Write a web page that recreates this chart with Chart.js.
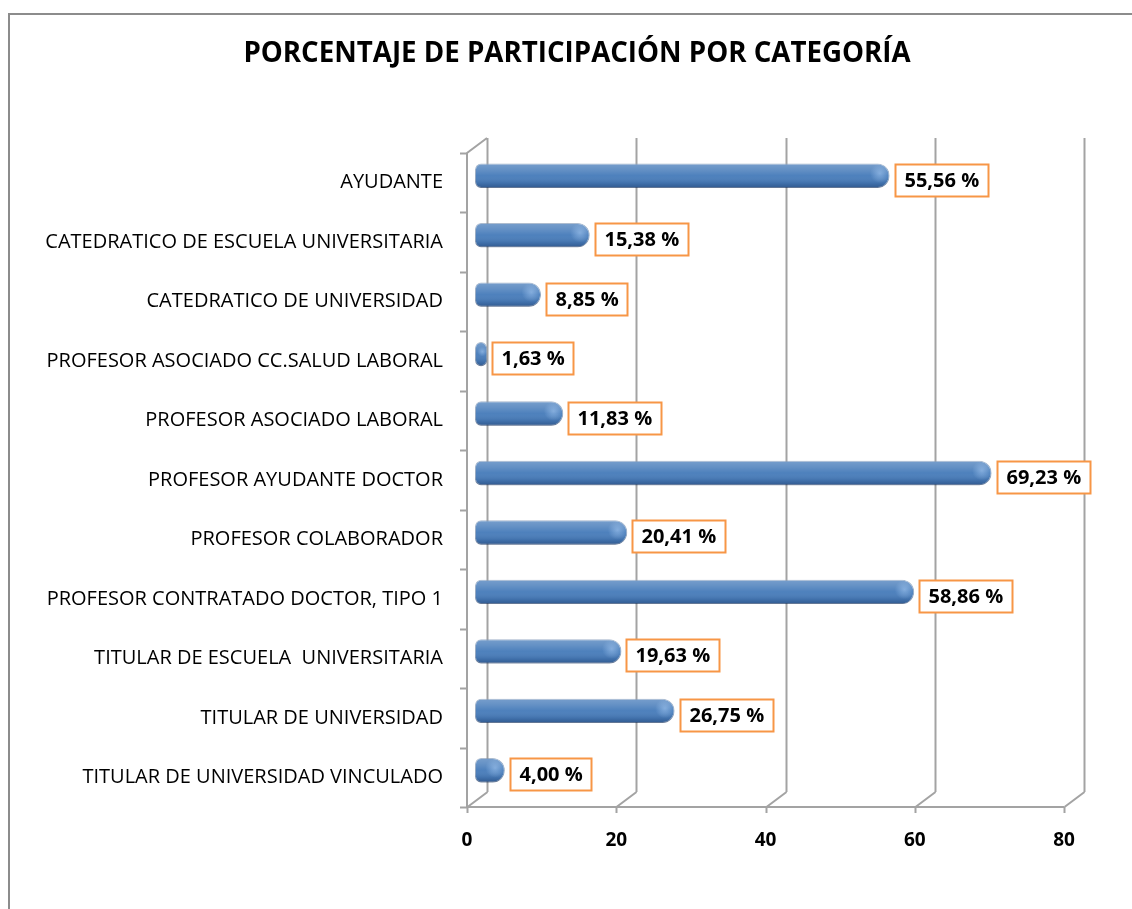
<!DOCTYPE html>
<html>
<head>
<meta charset="utf-8">
<script src="https://cdn.jsdelivr.net/npm/chart.js@4/dist/chart.umd.min.js"></script>
<style>
  html, body { margin: 0; padding: 0; background: #fff; }
  canvas { display: block; }
</style>
</head>
<body>
<canvas id="barChartExample" width="1132" height="909"></canvas>
<script>
'use strict';

var categories = [
    'AYUDANTE',
    'CATEDRATICO DE ESCUELA UNIVERSITARIA',
    'CATEDRATICO DE UNIVERSIDAD',
    'PROFESOR ASOCIADO CC.SALUD LABORAL',
    'PROFESOR ASOCIADO LABORAL',
    'PROFESOR AYUDANTE DOCTOR',
    'PROFESOR COLABORADOR',
    'PROFESOR CONTRATADO DOCTOR, TIPO 1',
    'TITULAR DE ESCUELA  UNIVERSITARIA',
    'TITULAR DE UNIVERSIDAD',
    'TITULAR DE UNIVERSIDAD VINCULADO'
];
var percentages = [55.56, 15.38, 8.85, 1.63, 11.83, 69.23, 20.41, 58.86, 19.63, 26.75, 4.00];
var xTicks = [0, 20, 40, 60, 80];

var chartTitle = 'PORCENTAJE DE PARTICIPACIÓN POR CATEGORÍA';

var brandBlue = '#4A7EBB',
    wallGray = '#A3A3A3',
    labelOrange = '#F79646',
    depthX = 20, depthY = -15;

Chart.defaults.font.family = "'Open Sans', sans-serif";
Chart.defaults.color = '#000';

function fmt(v) {
    return v.toFixed(2).replace('.', ',') + ' %';
}

// white background, outer frame and the title
var framePlugin = {
    id: 'frame',
    beforeDraw: function (chart) {
        var ctx = chart.ctx;
        ctx.save();
        ctx.fillStyle = '#fff';
        ctx.fillRect(0, 0, chart.width, chart.height);
        ctx.strokeStyle = '#8C8C8C';
        ctx.lineWidth = 2;
        ctx.strokeRect(9, 14, chart.width + 50, chart.height + 50);
        ctx.font = "bold 27.7px 'Open Sans', sans-serif";
        ctx.fillStyle = '#000';
        ctx.textAlign = 'center';
        ctx.textBaseline = 'middle';
        ctx.fillText(chartTitle, 577, 54);
        ctx.restore();
    }
};

// fake 3D walls, then shift the bars half way into the depth
var wallsPlugin = {
    id: 'walls',
    beforeDatasetsDraw: function (chart) {
        var ctx = chart.ctx, a = chart.chartArea,
            xs = chart.scales.x;
        ctx.save();
        ctx.strokeStyle = wallGray;
        ctx.lineWidth = 2;
        ctx.beginPath();
        xTicks.forEach(function (v) {
            var x = Math.round(xs.getPixelForValue(v)) + 0.5;
            // back wall gridline
            ctx.moveTo(x + depthX, a.top + depthY);
            ctx.lineTo(x + depthX, a.bottom + depthY);
            // floor diagonal
            ctx.moveTo(x + depthX, a.bottom + depthY);
            ctx.lineTo(x, a.bottom);
            // tick
            ctx.moveTo(x, a.bottom);
            ctx.lineTo(x, a.bottom + 6);
        });
        // front floor edge and left edge
        ctx.moveTo(a.left, a.bottom);
        ctx.lineTo(xs.getPixelForValue(80), a.bottom);
        ctx.moveTo(a.left, a.bottom);
        ctx.lineTo(a.left, a.top);
        ctx.lineTo(a.left + depthX, a.top + depthY);
        // category ticks on the left edge
        var step = (a.bottom - a.top) / categories.length;
        for (var i = 0; i <= categories.length; i++) {
            var y = Math.round(a.top + i * step) + 0.5;
            ctx.moveTo(a.left, y);
            ctx.lineTo(a.left - 7, y);
        }
        ctx.stroke();
        ctx.restore();

        ctx.save();
        ctx.translate(8, -7);
    },
    afterDatasetsDraw: function (chart) {
        var ctx = chart.ctx;
        var meta = chart.getDatasetMeta(0);
        // cylinder shading over each bar
        meta.data.forEach(function (bar) {
            var p = bar.getProps(['x', 'y', 'base', 'height']);
            var top = p.y - p.height / 2, h = p.height,
                left = p.base, w = p.x - p.base;
            var r = Math.min(h / 2, w / 2);
            var g = ctx.createLinearGradient(0, top, 0, top + h);
            g.addColorStop(0, 'rgba(255,255,255,0.25)');
            g.addColorStop(0.25, 'rgba(255,255,255,0.15)');
            g.addColorStop(0.5, 'rgba(255,255,255,0.02)');
            g.addColorStop(0.8, 'rgba(0,20,60,0.12)');
            g.addColorStop(1, 'rgba(0,20,60,0.35)');
            ctx.beginPath();
            ctx.roundRect(left, top, w, h, [Math.min(6, r), r, r, Math.min(6, r)]);
            ctx.fillStyle = g;
            ctx.fill();
            var cx = p.x - r * 0.8, cy = p.y - h * 0.1;
            var rg = ctx.createRadialGradient(cx, cy, 0, cx, cy, r * 0.8);
            rg.addColorStop(0, 'rgba(170,205,245,0.55)');
            rg.addColorStop(1, 'rgba(170,205,245,0)');
            ctx.fillStyle = rg;
            ctx.fill();
        });
        ctx.restore();

        // value boxes
        ctx.save();
        ctx.font = "bold 20px 'Open Sans', sans-serif";
        ctx.textBaseline = 'middle';
        meta.data.forEach(function (bar, i) {
            var txt = fmt(percentages[i]);
            var tw = ctx.measureText(txt).width;
            var bx = Math.round(bar.x + 9 + 4) + 0.5,
                by = Math.round(bar.y - 3 - 16) + 0.5,
                bw = Math.round(tw + 18), bh = 32;
            ctx.fillStyle = '#fff';
            ctx.fillRect(bx, by, bw, bh);
            ctx.strokeStyle = labelOrange;
            ctx.lineWidth = 2;
            ctx.strokeRect(bx, by, bw, bh);
            ctx.fillStyle = '#000';
            ctx.fillText(txt, bx + 9, by + bh / 2 + 1);
        });
        ctx.restore();
    }
};

var barChartExample = new Chart(document.getElementById('barChartExample'), {
    type: 'bar',
    data: {
        labels: categories,
        datasets: [{
            label: 'Porcentaje',
            data: percentages,
            backgroundColor: brandBlue,
            borderColor: 'rgba(40,80,130,0.5)',
            borderWidth: 1,
            borderSkipped: false,
            borderRadius: { topLeft: 6, bottomLeft: 6, topRight: 12, bottomRight: 12 },
            barPercentage: 0.41,
            categoryPercentage: 1,
            clip: false
        }]
    },
    plugins: [framePlugin, wallsPlugin],
    options: {
        indexAxis: 'y',
        responsive: false,
        animation: false,
        layout: { padding: { left: 0, right: 68, top: 153, bottom: 0 } },
        plugins: {
            legend: { display: false },
            tooltip: { enabled: false },
            title: { display: false }
        },
        scales: {
            x: {
                min: 0,
                max: 80,
                ticks: {
                    stepSize: 20,
                    padding: 22,
                    font: { size: 19, weight: 'bold' }
                },
                grid: { display: false, drawTicks: false },
                border: { display: false },
                afterFit: function (s) { s.height = 102; }
            },
            y: {
                ticks: {
                    padding: 24,
                    font: { size: 20 },
                    autoSkip: false
                },
                grid: { display: false, drawTicks: false },
                border: { display: false },
                afterFit: function (s) { s.width = 467; }
            }
        }
    }
});
</script>
</body>
</html>
